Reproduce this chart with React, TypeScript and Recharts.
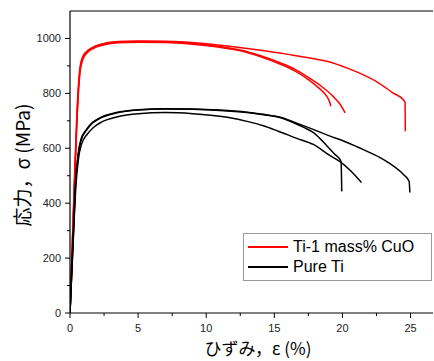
import React from "react"
import { LineChart, Line, XAxis, YAxis, ReferenceLine } from "recharts"

// strain (%) / stress (MPa)
const cuoA = [
  [0, 0], [0.3, 450], [0.5, 720], [0.7, 880], [0.9, 930], [1.2, 952], [1.6, 966], [2.2, 978],
  [3.5, 989], [5, 991], [7, 990], [10, 981], [12, 970], [14, 957], [16, 942], [17.5, 930],
  [19, 915], [20.3, 893], [21.3, 873], [22.5, 843], [23.7, 802], [24.5, 775], [24.6, 767], [24.62, 662],
]
const cuoB = [
  [0, 0], [0.32, 450], [0.53, 720], [0.73, 875], [0.95, 925], [1.3, 950], [1.7, 963], [2.3, 974],
  [3.5, 984], [5, 986], [7, 985], [9, 979], [11, 968], [12.5, 955], [14, 933], [15.5, 905],
  [16.5, 882], [17.5, 850], [18.3, 818], [18.8, 793], [19.05, 770], [19.15, 753],
]
const cuoC = [
  [0, 0], [0.31, 450], [0.52, 720], [0.72, 878], [0.92, 928], [1.25, 951], [1.65, 965], [2.2, 976],
  [3.5, 986], [5, 989], [7, 988], [9, 982], [11, 971], [12.5, 958], [14, 937], [15.5, 910],
  [16.5, 888], [17.5, 858], [18.5, 824], [19.3, 790], [19.8, 762], [20.2, 729],
]
const tiD = [
  [0, 0], [0.25, 300], [0.4, 470], [0.6, 580], [0.8, 632], [1.2, 668], [1.6, 692], [2.2, 711],
  [3.4, 730], [5, 740], [7, 744], [9, 743], [11, 739], [13, 731], [14.5, 721], [15.5, 711],
  [16.5, 691], [17.2, 675], [17.9, 656], [18.8, 612], [19.4, 580], [19.9, 552], [19.95, 443],
]
const tiE = [
  [0, 0], [0.27, 300], [0.43, 460], [0.63, 565], [0.85, 615], [1.25, 650], [1.7, 675], [2.3, 695],
  [3.5, 715], [5, 726], [7, 730], [9, 726], [10.5, 719], [11.75, 711], [13, 698], [14.2, 682],
  [15.3, 662], [16.6, 637], [17.9, 613], [19.1, 573], [19.8, 552], [20.6, 518], [21.4, 475],
]
const tiF = [
  [0, 0], [0.26, 300], [0.41, 470], [0.61, 578], [0.82, 630], [1.22, 666], [1.62, 690], [2.2, 709],
  [3.4, 728], [5, 739], [7, 743], [9, 742], [11, 738], [13, 730], [14.5, 720], [15.5, 712],
  [16.5, 694], [17.9, 668], [19, 646], [20.3, 622], [21.5, 596], [22.8, 565], [23.7, 537],
  [24.5, 504], [24.9, 479], [24.95, 439],
]

const seriesNames = ["Ti-1 mass% CuO", "Pure Ti"]
const seriesColors = ["#ff0000", "#000000"]
const xTicks = [0, 2.5, 5, 7.5, 10, 12.5, 15, 17.5, 20, 22.5, 25]
const yTicks = [0, 100, 200, 300, 400, 500, 600, 700, 800, 900, 1000]

const curves = [
  { key: "cuoA", pts: cuoA, color: seriesColors[0] },
  { key: "cuoB", pts: cuoB, color: seriesColors[0] },
  { key: "cuoC", pts: cuoC, color: seriesColors[0] },
  { key: "tiD", pts: tiD, color: seriesColors[1] },
  { key: "tiE", pts: tiE, color: seriesColors[1] },
  { key: "tiF", pts: tiF, color: seriesColors[1] },
]

const tickFont = { fontFamily: "Liberation Sans, Arial, sans-serif", fontSize: 11, fill: "#222" }
const jpFont = "Noto Sans CJK JP, sans-serif"

const XTick = (props: any) => {
  const { x, y, payload } = props
  const major = payload.value % 5 === 0
  return (
    <g>
      <line x1={x} x2={x} y1={y - 8} y2={y - 8 + (major ? 5 : 3)} stroke="#000" />
      {major && (
        <text x={x} y={y + 11} textAnchor="middle" {...tickFont}>
          {payload.value}
        </text>
      )}
    </g>
  )
}

const YTick = (props: any) => {
  const { x, y, payload } = props
  const major = payload.value % 200 === 0
  return (
    <g>
      <line x1={x + 8} x2={x + 8 - (major ? 5 : 3)} y1={y} y2={y} stroke="#000" />
      {major && (
        <text x={x - 1} y={y + 4} textAnchor="end" {...tickFont}>
          {payload.value}
        </text>
      )}
    </g>
  )
}

const LegendBox = () => (
  <div
    style={{
      position: "absolute",
      left: 243,
      top: 233,
      width: 189,
      height: 48,
      border: "1px solid #999",
      background: "#fff",
      boxSizing: "border-box",
      padding: "3px 0 0 4px",
      fontFamily: "Liberation Sans, Arial, sans-serif",
      fontSize: 16,
      lineHeight: "20px",
      color: "#000",
    }}
  >
    {seriesNames.map((n, i) => (
      <div key={n} style={{ display: "flex", alignItems: "center" }}>
        <span style={{ display: "inline-block", width: 40, height: 1.3, background: seriesColors[i], marginRight: 5 }} />
        <span>{n}</span>
      </div>
    ))}
  </div>
)

export default function App() {
  return (
    <div style={{ position: "fixed", left: 0, top: 0, width: 434, height: 361, background: "#fff" }}>
      <LineChart width={434} height={361} margin={{ top: 11, right: 1, left: 0, bottom: 0 }}>
        <XAxis
          type="number"
          dataKey="x"
          domain={[0, 26.65]}
          ticks={xTicks}
          interval={0}
          height={48}
          tickLine={false}
          axisLine={{ stroke: "#000", strokeWidth: 1.2 }}
          tick={<XTick />}
          allowDataOverflow
        />
        <YAxis
          type="number"
          dataKey="y"
          domain={[0, 1100]}
          ticks={yTicks}
          interval={0}
          width={70}
          tickLine={false}
          axisLine={{ stroke: "#000", strokeWidth: 1.2 }}
          tick={<YTick />}
          allowDataOverflow
        />
        <ReferenceLine y={1100} stroke="#000" strokeWidth={1.2} />
        {curves.map((c) => (
          <Line
            key={c.key}
            data={c.pts.map(([x, y]) => ({ x, y }))}
            dataKey="y"
            type="monotone"
            stroke={c.color}
            strokeWidth={1.5}
            dot={false}
            activeDot={false}
            isAnimationActive={false}
            legendType="none"
          />
        ))}
        <text x={258} y={355} textAnchor="middle" fontFamily={jpFont} fontSize={17} fill="#000">
          ひずみ，ε (%)
        </text>
        <text
          x={30}
          y={165}
          textAnchor="middle"
          fontFamily={jpFont}
          fontSize={19}
          fill="#000"
          transform="rotate(-90 30 165)"
        >
          応力，σ (MPa)
        </text>
      </LineChart>
      <LegendBox />
    </div>
  )
}
